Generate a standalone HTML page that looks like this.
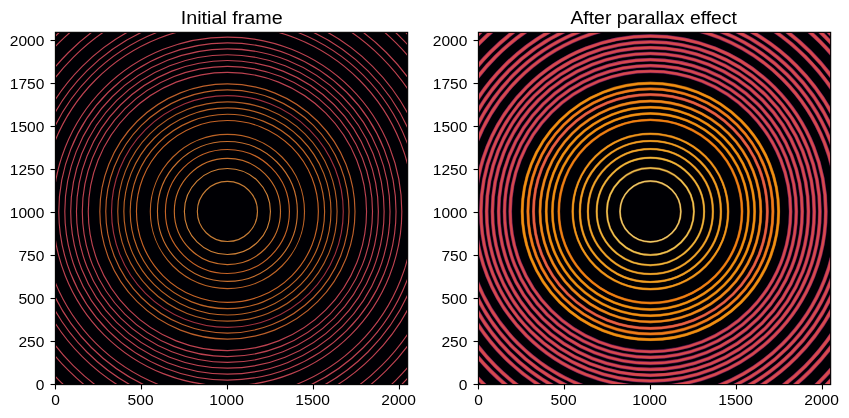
<!DOCTYPE html>
<html><head><meta charset="utf-8"><style>html,body{margin:0;padding:0;background:#fff;overflow:hidden}svg{display:block} text{will-change:transform}</style></head>
<body><svg width="849" height="418" viewBox="0 0 849 418"><rect width="849" height="418" fill="#fff"/><clipPath id="c1"><rect x="55.41" y="32.33" width="352.25" height="352.26"/></clipPath>
<rect x="55.41" y="32.33" width="352.25" height="352.26" fill="#000004"/>
<g clip-path="url(#c1)" fill="none">
<g stroke-width="1.15"><circle cx="227.41" cy="211.48" r="30.06" stroke="#c57c35"/><circle cx="227.41" cy="211.48" r="43.03" stroke="#ce8037"/><circle cx="227.41" cy="211.48" r="53.09" stroke="#c56d2a"/><circle cx="227.41" cy="211.48" r="62.01" stroke="#c56326"/><circle cx="227.41" cy="211.48" r="69.96" stroke="#c56f2e"/><circle cx="227.41" cy="211.48" r="77.09" stroke="#bc6326"/><circle cx="227.41" cy="211.48" r="90.95" stroke="#c56326"/><circle cx="227.41" cy="211.48" r="97.2" stroke="#bc6326"/><circle cx="227.41" cy="211.48" r="103.56" stroke="#bc6326"/><circle cx="227.41" cy="211.48" r="109.67" stroke="#b35d26"/><circle cx="227.41" cy="211.48" r="115.86" stroke="#a1313d"/><circle cx="227.41" cy="211.48" r="121.65" stroke="#bc5f2a"/><circle cx="227.41" cy="211.48" r="127.59" stroke="#bc5f2a"/><circle cx="227.41" cy="211.48" r="139.14" stroke="#bc4250"/><circle cx="227.41" cy="211.48" r="145.09" stroke="#bc4250"/><circle cx="227.41" cy="211.48" r="150.95" stroke="#bc4250"/><circle cx="227.41" cy="211.48" r="156.71" stroke="#bc4250"/><circle cx="227.41" cy="211.48" r="162.61" stroke="#bc4250"/><circle cx="227.41" cy="211.48" r="168.61" stroke="#bc4250"/><circle cx="227.41" cy="211.48" r="174.4" stroke="#bc4250"/><circle cx="227.41" cy="211.48" r="186.3" stroke="#bc4250"/><circle cx="227.41" cy="211.48" r="192.4" stroke="#bc4250"/><circle cx="227.41" cy="211.48" r="198.75" stroke="#bc4250"/><circle cx="227.41" cy="211.48" r="205.3" stroke="#bc4250"/><circle cx="227.41" cy="211.48" r="218.0" stroke="#bc4250"/><circle cx="227.41" cy="211.48" r="224.8" stroke="#bc4250"/><circle cx="227.41" cy="211.48" r="238.4" stroke="#bc4250"/><circle cx="227.41" cy="211.48" r="245.6" stroke="#bc4250"/><circle cx="227.41" cy="211.48" r="252.8" stroke="#bc4250"/></g>
</g>
<rect x="55.41" y="32.33" width="352.25" height="352.26" fill="none" stroke="#000" stroke-width="1.11"/>
<g stroke="#000" stroke-width="1.11"><line x1="50.55" y1="384.50" x2="55.41" y2="384.50"/><line x1="50.55" y1="341.50" x2="55.41" y2="341.50"/><line x1="50.55" y1="298.50" x2="55.41" y2="298.50"/><line x1="50.55" y1="255.51" x2="55.41" y2="255.51"/><line x1="50.55" y1="212.51" x2="55.41" y2="212.51"/><line x1="50.55" y1="169.51" x2="55.41" y2="169.51"/><line x1="50.55" y1="126.51" x2="55.41" y2="126.51"/><line x1="50.55" y1="83.52" x2="55.41" y2="83.52"/><line x1="50.55" y1="40.52" x2="55.41" y2="40.52"/><line x1="55.50" y1="384.59" x2="55.50" y2="389.45"/><line x1="141.50" y1="384.59" x2="141.50" y2="389.45"/><line x1="227.49" y1="384.59" x2="227.49" y2="389.45"/><line x1="313.49" y1="384.59" x2="313.49" y2="389.45"/><line x1="399.48" y1="384.59" x2="399.48" y2="389.45"/></g>
<g font-family="Liberation Sans, sans-serif" font-size="14" fill="#000"><text x="44.41" y="389.50" text-anchor="end" textLength="8.66" lengthAdjust="spacingAndGlyphs">0</text><text x="44.41" y="346.50" text-anchor="end" textLength="25.98" lengthAdjust="spacingAndGlyphs">250</text><text x="44.41" y="303.50" text-anchor="end" textLength="25.98" lengthAdjust="spacingAndGlyphs">500</text><text x="44.41" y="260.51" text-anchor="end" textLength="25.98" lengthAdjust="spacingAndGlyphs">750</text><text x="44.41" y="217.51" text-anchor="end" textLength="34.64" lengthAdjust="spacingAndGlyphs">1000</text><text x="44.41" y="174.51" text-anchor="end" textLength="34.64" lengthAdjust="spacingAndGlyphs">1250</text><text x="44.41" y="131.51" text-anchor="end" textLength="34.64" lengthAdjust="spacingAndGlyphs">1500</text><text x="44.41" y="88.52" text-anchor="end" textLength="34.64" lengthAdjust="spacingAndGlyphs">1750</text><text x="44.41" y="45.52" text-anchor="end" textLength="34.64" lengthAdjust="spacingAndGlyphs">2000</text><text x="55.50" y="404.70" text-anchor="middle" textLength="8.66" lengthAdjust="spacingAndGlyphs">0</text><text x="140.59" y="404.70" text-anchor="middle" textLength="25.98" lengthAdjust="spacingAndGlyphs">500</text><text x="226.59" y="404.70" text-anchor="middle" textLength="34.64" lengthAdjust="spacingAndGlyphs">1000</text><text x="312.59" y="404.70" text-anchor="middle" textLength="34.64" lengthAdjust="spacingAndGlyphs">1500</text><text x="398.58" y="404.70" text-anchor="middle" textLength="34.64" lengthAdjust="spacingAndGlyphs">2000</text></g><clipPath id="c2"><rect x="478.40999999999997" y="32.33" width="352.25" height="352.26"/></clipPath>
<rect x="478.40999999999997" y="32.33" width="352.25" height="352.26" fill="#000004"/>
<g clip-path="url(#c2)" fill="none">
<circle cx="650.42" cy="211.48" r="30.4" stroke="#3e1f0d" stroke-width="2.20"/><circle cx="650.42" cy="211.48" r="30.4" stroke="#aa7c3c" stroke-width="1.70"/><circle cx="650.42" cy="211.48" r="30.4" stroke="#f0d068" stroke-width="1.05"/><circle cx="650.42" cy="211.48" r="43.5" stroke="#3e1f0d" stroke-width="2.36"/><circle cx="650.42" cy="211.48" r="43.5" stroke="#aa7931" stroke-width="1.86"/><circle cx="650.42" cy="211.48" r="43.5" stroke="#f0c850" stroke-width="1.21"/><circle cx="650.42" cy="211.48" r="53.7" stroke="#3e1f0d" stroke-width="2.48"/><circle cx="650.42" cy="211.48" r="53.7" stroke="#aa7226" stroke-width="1.98"/><circle cx="650.42" cy="211.48" r="53.7" stroke="#f0b838" stroke-width="1.33"/><circle cx="650.42" cy="211.48" r="62.5" stroke="#3e1f0d" stroke-width="2.59"/><circle cx="650.42" cy="211.48" r="62.5" stroke="#aa6a1f" stroke-width="2.09"/><circle cx="650.42" cy="211.48" r="62.5" stroke="#f0a828" stroke-width="1.44"/><circle cx="650.42" cy="211.48" r="70.5" stroke="#3e1f0d" stroke-width="2.69"/><circle cx="650.42" cy="211.48" r="70.5" stroke="#aa671c" stroke-width="2.19"/><circle cx="650.42" cy="211.48" r="70.5" stroke="#f0a020" stroke-width="1.54"/><circle cx="650.42" cy="211.48" r="77.7" stroke="#3e1f0d" stroke-width="2.77"/><circle cx="650.42" cy="211.48" r="77.7" stroke="#aa6318" stroke-width="2.27"/><circle cx="650.42" cy="211.48" r="77.7" stroke="#f09818" stroke-width="1.62"/><circle cx="650.42" cy="211.48" r="91.6" stroke="#3e1f0d" stroke-width="2.93"/><circle cx="650.42" cy="211.48" r="91.6" stroke="#aa5814" stroke-width="2.43"/><circle cx="650.42" cy="211.48" r="91.6" stroke="#f08010" stroke-width="1.78"/><circle cx="650.42" cy="211.48" r="98.0" stroke="#3e1f0d" stroke-width="3.00"/><circle cx="650.42" cy="211.48" r="98.0" stroke="#aa6014" stroke-width="2.50"/><circle cx="650.42" cy="211.48" r="98.0" stroke="#f09010" stroke-width="1.85"/><circle cx="650.42" cy="211.48" r="104.2" stroke="#3e1f0d" stroke-width="3.07"/><circle cx="650.42" cy="211.48" r="104.2" stroke="#aa6014" stroke-width="2.57"/><circle cx="650.42" cy="211.48" r="104.2" stroke="#f09010" stroke-width="1.92"/><circle cx="650.42" cy="211.48" r="110.4" stroke="#3e1f0d" stroke-width="3.13"/><circle cx="650.42" cy="211.48" r="110.4" stroke="#aa5c18" stroke-width="2.63"/><circle cx="650.42" cy="211.48" r="110.4" stroke="#f08818" stroke-width="1.98"/><circle cx="650.42" cy="211.48" r="116.9" stroke="#461616" stroke-width="3.21"/><circle cx="650.42" cy="211.48" r="116.9" stroke="#af4133" stroke-width="2.71"/><circle cx="650.42" cy="211.48" r="116.9" stroke="#e86040" stroke-width="2.06"/><circle cx="650.42" cy="211.48" r="122.5" stroke="#3e1f0d" stroke-width="3.27"/><circle cx="650.42" cy="211.48" r="122.5" stroke="#aa5718" stroke-width="2.77"/><circle cx="650.42" cy="211.48" r="122.5" stroke="#f07c18" stroke-width="2.12"/><circle cx="650.42" cy="211.48" r="128.2" stroke="#3e1f0d" stroke-width="3.33"/><circle cx="650.42" cy="211.48" r="128.2" stroke="#aa6014" stroke-width="2.83"/><circle cx="650.42" cy="211.48" r="128.2" stroke="#f09010" stroke-width="2.18"/><circle cx="650.42" cy="211.48" r="140.2" stroke="#430f3a" stroke-width="3.80"/><circle cx="650.42" cy="211.48" r="140.2" stroke="#a4315c" stroke-width="3.10"/><circle cx="650.42" cy="211.48" r="140.2" stroke="#d84a4c" stroke-width="2.00"/><circle cx="650.42" cy="211.48" r="145.9" stroke="#430f3a" stroke-width="3.84"/><circle cx="650.42" cy="211.48" r="145.9" stroke="#a4315c" stroke-width="3.14"/><circle cx="650.42" cy="211.48" r="145.9" stroke="#d84a4c" stroke-width="2.04"/><circle cx="650.42" cy="211.48" r="151.8" stroke="#430f3a" stroke-width="3.87"/><circle cx="650.42" cy="211.48" r="151.8" stroke="#a4315c" stroke-width="3.17"/><circle cx="650.42" cy="211.48" r="151.8" stroke="#d84a4c" stroke-width="2.07"/><circle cx="650.42" cy="211.48" r="158.0" stroke="#430f3a" stroke-width="3.91"/><circle cx="650.42" cy="211.48" r="158.0" stroke="#a4315c" stroke-width="3.21"/><circle cx="650.42" cy="211.48" r="158.0" stroke="#d84a4c" stroke-width="2.11"/><circle cx="650.42" cy="211.48" r="163.8" stroke="#430f3a" stroke-width="3.94"/><circle cx="650.42" cy="211.48" r="163.8" stroke="#a4315c" stroke-width="3.24"/><circle cx="650.42" cy="211.48" r="163.8" stroke="#d84a4c" stroke-width="2.14"/><circle cx="650.42" cy="211.48" r="169.5" stroke="#430f3a" stroke-width="3.98"/><circle cx="650.42" cy="211.48" r="169.5" stroke="#a4315c" stroke-width="3.28"/><circle cx="650.42" cy="211.48" r="169.5" stroke="#d84a4c" stroke-width="2.18"/><circle cx="650.42" cy="211.48" r="175.4" stroke="#430f3a" stroke-width="4.01"/><circle cx="650.42" cy="211.48" r="175.4" stroke="#a4315c" stroke-width="3.31"/><circle cx="650.42" cy="211.48" r="175.4" stroke="#d84a4c" stroke-width="2.21"/><circle cx="650.42" cy="211.48" r="187.1" stroke="#430f3a" stroke-width="4.08"/><circle cx="650.42" cy="211.48" r="187.1" stroke="#a4315c" stroke-width="3.38"/><circle cx="650.42" cy="211.48" r="187.1" stroke="#d84a4c" stroke-width="2.28"/><circle cx="650.42" cy="211.48" r="193.3" stroke="#430f3a" stroke-width="4.12"/><circle cx="650.42" cy="211.48" r="193.3" stroke="#a4315c" stroke-width="3.42"/><circle cx="650.42" cy="211.48" r="193.3" stroke="#d84a4c" stroke-width="2.32"/><circle cx="650.42" cy="211.48" r="199.7" stroke="#430f3a" stroke-width="4.16"/><circle cx="650.42" cy="211.48" r="199.7" stroke="#a4315c" stroke-width="3.46"/><circle cx="650.42" cy="211.48" r="199.7" stroke="#d84a4c" stroke-width="2.36"/><circle cx="650.42" cy="211.48" r="206.2" stroke="#430f3a" stroke-width="4.20"/><circle cx="650.42" cy="211.48" r="206.2" stroke="#a4315c" stroke-width="3.50"/><circle cx="650.42" cy="211.48" r="206.2" stroke="#d84a4c" stroke-width="2.40"/><circle cx="650.42" cy="211.48" r="218.9" stroke="#430f3a" stroke-width="4.27"/><circle cx="650.42" cy="211.48" r="218.9" stroke="#a4315c" stroke-width="3.57"/><circle cx="650.42" cy="211.48" r="218.9" stroke="#d84a4c" stroke-width="2.47"/><circle cx="650.42" cy="211.48" r="225.8" stroke="#430f3a" stroke-width="4.31"/><circle cx="650.42" cy="211.48" r="225.8" stroke="#a4315c" stroke-width="3.61"/><circle cx="650.42" cy="211.48" r="225.8" stroke="#d84a4c" stroke-width="2.51"/><circle cx="650.42" cy="211.48" r="240.0" stroke="#430f3a" stroke-width="4.40"/><circle cx="650.42" cy="211.48" r="240.0" stroke="#a4315c" stroke-width="3.70"/><circle cx="650.42" cy="211.48" r="240.0" stroke="#d84a4c" stroke-width="2.60"/><circle cx="650.42" cy="211.48" r="247.1" stroke="#430f3a" stroke-width="4.44"/><circle cx="650.42" cy="211.48" r="247.1" stroke="#a4315c" stroke-width="3.74"/><circle cx="650.42" cy="211.48" r="247.1" stroke="#d84a4c" stroke-width="2.64"/><circle cx="650.42" cy="211.48" r="253.0" stroke="#430f3a" stroke-width="4.48"/><circle cx="650.42" cy="211.48" r="253.0" stroke="#a4315c" stroke-width="3.78"/><circle cx="650.42" cy="211.48" r="253.0" stroke="#d84a4c" stroke-width="2.68"/>
</g>
<rect x="478.40999999999997" y="32.33" width="352.25" height="352.26" fill="none" stroke="#000" stroke-width="1.11"/>
<g stroke="#000" stroke-width="1.11"><line x1="473.55" y1="384.50" x2="478.40999999999997" y2="384.50"/><line x1="473.55" y1="341.50" x2="478.40999999999997" y2="341.50"/><line x1="473.55" y1="298.50" x2="478.40999999999997" y2="298.50"/><line x1="473.55" y1="255.51" x2="478.40999999999997" y2="255.51"/><line x1="473.55" y1="212.51" x2="478.40999999999997" y2="212.51"/><line x1="473.55" y1="169.51" x2="478.40999999999997" y2="169.51"/><line x1="473.55" y1="126.51" x2="478.40999999999997" y2="126.51"/><line x1="473.55" y1="83.52" x2="478.40999999999997" y2="83.52"/><line x1="473.55" y1="40.52" x2="478.40999999999997" y2="40.52"/><line x1="478.50" y1="384.59" x2="478.50" y2="389.45"/><line x1="564.50" y1="384.59" x2="564.50" y2="389.45"/><line x1="650.49" y1="384.59" x2="650.49" y2="389.45"/><line x1="736.49" y1="384.59" x2="736.49" y2="389.45"/><line x1="822.48" y1="384.59" x2="822.48" y2="389.45"/></g>
<g font-family="Liberation Sans, sans-serif" font-size="14" fill="#000"><text x="467.41" y="389.50" text-anchor="end" textLength="8.66" lengthAdjust="spacingAndGlyphs">0</text><text x="467.41" y="346.50" text-anchor="end" textLength="25.98" lengthAdjust="spacingAndGlyphs">250</text><text x="467.41" y="303.50" text-anchor="end" textLength="25.98" lengthAdjust="spacingAndGlyphs">500</text><text x="467.41" y="260.51" text-anchor="end" textLength="25.98" lengthAdjust="spacingAndGlyphs">750</text><text x="467.41" y="217.51" text-anchor="end" textLength="34.64" lengthAdjust="spacingAndGlyphs">1000</text><text x="467.41" y="174.51" text-anchor="end" textLength="34.64" lengthAdjust="spacingAndGlyphs">1250</text><text x="467.41" y="131.51" text-anchor="end" textLength="34.64" lengthAdjust="spacingAndGlyphs">1500</text><text x="467.41" y="88.52" text-anchor="end" textLength="34.64" lengthAdjust="spacingAndGlyphs">1750</text><text x="467.41" y="45.52" text-anchor="end" textLength="34.64" lengthAdjust="spacingAndGlyphs">2000</text><text x="478.50" y="404.70" text-anchor="middle" textLength="8.66" lengthAdjust="spacingAndGlyphs">0</text><text x="563.60" y="404.70" text-anchor="middle" textLength="25.98" lengthAdjust="spacingAndGlyphs">500</text><text x="649.59" y="404.70" text-anchor="middle" textLength="34.64" lengthAdjust="spacingAndGlyphs">1000</text><text x="735.59" y="404.70" text-anchor="middle" textLength="34.64" lengthAdjust="spacingAndGlyphs">1500</text><text x="821.58" y="404.70" text-anchor="middle" textLength="34.64" lengthAdjust="spacingAndGlyphs">2000</text></g><g font-family="Liberation Sans, sans-serif" font-size="18" fill="#000" text-anchor="middle"><text x="231.75" y="23.8" textLength="102" lengthAdjust="spacingAndGlyphs">Initial frame</text><text x="653.7" y="23.8" textLength="166.5" lengthAdjust="spacingAndGlyphs">After parallax effect</text></g></svg></body></html>
